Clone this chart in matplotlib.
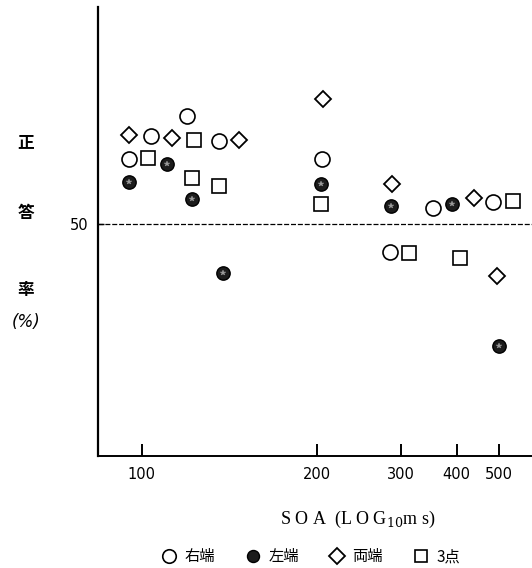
import numpy as np
import matplotlib
matplotlib.use("Agg")
import matplotlib.pyplot as plt

plt.rcParams['font.family'] = ['DejaVu Sans', 'Noto Sans CJK JP']
plt.rcParams['mathtext.fontset'] = 'dejavuserif'

# ---- data (SOA in ms, correct-answer rate in %) ----
right_x = [96, 103, 117, 132, 205, 284, 354, 484]
right_y = [63.0, 67.7, 71.7, 66.6, 63.0, 44.5, 53.3, 54.5]

left_x = [96, 109, 119, 134, 204, 286, 390, 502]
left_y = [58.5, 62.1, 55.0, 40.3, 58.1, 53.7, 54.1, 25.7]

both_x = [96, 111, 143, 206, 287, 437, 496]
both_y = [67.8, 67.3, 66.9, 75.0, 58.0, 55.3, 39.7]

three_x = [102, 120, 119, 132, 204, 312, 406, 541]
three_y = [63.3, 66.9, 59.3, 57.6, 54.0, 44.3, 43.3, 54.7]

xticks = [100, 200, 300, 400, 500]
xtick_labels = ['100', '200', '300', '400', '500']
ref_level = 50
legend_labels = ['右端', '左端', '両端', '3点']

fig = plt.figure(figsize=(5.32, 5.68), dpi=100)
ax = fig.add_axes([98/532, 1-456/568, 1-98/532, (456-7)/568])

off = 45.0
ax.set_xscale('function', functions=(lambda x: np.log10(np.maximum(np.asarray(x, float) - off, 1e-9)),
                                      lambda y: 10**np.asarray(y, float) + off))
ax.set_xlim(87.5, 599)
ax.set_ylim(50 - (456-224)/5, 50 + (224-7)/5)

ax.axhline(ref_level, color='black', lw=0.9, ls=(0, (4, 1.5)), zorder=1)

h1, = ax.plot(right_x, right_y, 'o', ms=10.8, mfc='white', mec='black', mew=1.2, ls='none', zorder=3)
h2, = ax.plot(left_x, left_y, 'o', ms=9.6, mfc='#1c1c1c', mec='black', mew=1.0, ls='none', zorder=3)
ax.plot(left_x, left_y, '*', ms=4, mfc='#9a9a9a', mec='#9a9a9a', mew=0.3, ls='none', zorder=4)
h3, = ax.plot(both_x, both_y, 'D', ms=8.5, mfc='white', mec='black', mew=1.3, ls='none', zorder=3)
h4, = ax.plot(three_x, three_y, 's', ms=9.6, mfc='white', mec='black', mew=1.2, ls='none', zorder=3)

for s in ['top', 'right']:
    ax.spines[s].set_visible(False)
ax.spines['left'].set_linewidth(1.6)
ax.spines['bottom'].set_linewidth(1.4)

ax.minorticks_off()
ax.set_xticks(xticks)
ax.set_xticklabels(xtick_labels)
ax.tick_params(axis='x', direction='in', length=9, width=1.4, pad=8, labelsize=10.5)
ax.set_yticks([ref_level])
ax.set_yticklabels(['50'])
ax.tick_params(axis='y', direction='in', length=4, width=1.0, pad=7, labelsize=10.5)

# y label stacked characters
for ch, ypx in [('正', 141.7), ('答', 213), ('率', 290)]:
    fig.text(26/532, 1 - ypx/568, ch, ha='center', va='center', fontsize=12, fontweight='bold',
             family=['Noto Sans CJK JP', 'DejaVu Sans'])
fig.text(26/532, 1 - 321.7/568, '(%)', ha='center', va='center', fontsize=12, style='italic',
         family=['DejaVu Sans'])

fig.text(358/532, 1 - 519/568, 'S O A  (L O G$_{10}$m s)', ha='center', va='center',
         fontsize=13, family=['Liberation Serif', 'DejaVu Serif'])

leg = fig.legend([h1, h2, h3, h4], legend_labels, loc='center', bbox_to_anchor=(311/532, 1 - 556.7/568),
                 ncol=4, frameon=False, handletextpad=0.5, columnspacing=2.0, handlelength=1.0,
                 prop={'family': ['Noto Sans CJK JP', 'DejaVu Sans'], 'size': 11}, markerscale=0.9)

fig.savefig('out.png', dpi=100)
